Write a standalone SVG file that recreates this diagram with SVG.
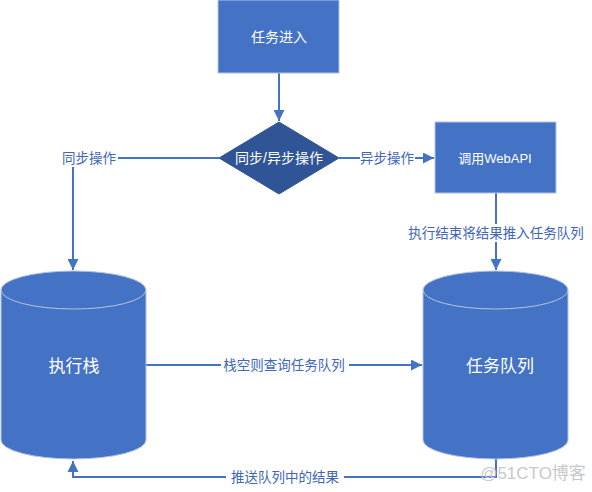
<svg xmlns="http://www.w3.org/2000/svg" width="592" height="492" viewBox="0 0 592 492">
<defs>
<marker id="ah" markerWidth="12" markerHeight="11" refX="11" refY="5.5" orient="auto" markerUnits="userSpaceOnUse">
<path d="M0,0 L11,5.5 L0,11 Z" fill="#4472C4"/>
</marker>
<style>
.node{fill:#4472C4;stroke:#B4C4E4;stroke-width:1}
.dia{fill:#2F5597;stroke:#2F5597;stroke-width:1}
.ntext{font-family:"Liberation Sans","Noto Sans CJK SC",sans-serif;fill:#FFFFFF;text-anchor:middle;dominant-baseline:central}
.line{fill:none;stroke:#4472C4;stroke-width:2}
.lbl{font-family:"Liberation Sans","Noto Sans CJK SC",sans-serif;font-size:13.5px;fill:#3F67B6;text-anchor:middle;dominant-baseline:central}
.bg{fill:#FFFFFF}
</style>
</defs>
<rect width="592" height="492" fill="#FFFFFF"/>

<g id="connectors">
<line class="line" x1="279" y1="73" x2="279" y2="121" marker-end="url(#ah)"/>
<polyline class="line" points="219,158 73,158 73,270" marker-end="url(#ah)"/>
<line class="line" x1="339" y1="158" x2="434" y2="158" marker-end="url(#ah)"/>
<line class="line" x1="496" y1="193" x2="496" y2="270" marker-end="url(#ah)"/>
<line class="line" x1="146" y1="365" x2="422" y2="365" marker-end="url(#ah)"/>
<polyline class="line" points="496,459 496,477 73,477 73,461" marker-end="url(#ah)"/>

<rect class="bg" x="60" y="149" width="58" height="18"/>
<text class="lbl" x="89" y="158">同步操作</text>
<rect class="bg" x="360" y="149" width="55" height="18"/>
<text class="lbl" x="387" y="158">异步操作</text>
<rect class="bg" x="405" y="224" width="184" height="18"/>
<text class="lbl" x="496" y="233">执行结束将结果推入任务队列</text>
<rect class="bg" x="221" y="356" width="128" height="18"/>
<text class="lbl" x="284" y="365">栈空则查询任务队列</text>
<rect class="bg" x="226" y="468" width="118" height="18"/>
<text class="lbl" x="285" y="477">推送队列中的结果</text>
</g>

<g id="start">
<rect class="node" x="218" y="0" width="121" height="73"/>
<text class="ntext" x="279" y="37" font-size="14">任务进入</text>
</g>

<g id="decision">
<polygon class="dia" points="279,122 339,158 279,194 219,158"/>
<text class="ntext" x="279" y="158" font-size="14">同步/异步操作</text>
</g>

<g id="webapi">
<rect class="node" x="435" y="122" width="121" height="71"/>
<text class="ntext" x="495" y="158" font-size="13">调用WebAPI</text>
</g>

<g id="stack">
<path class="node" d="M1,290 L1,440 A72.5,19 0 0 0 146,440 L146,290 A72.5,19 0 0 0 1,290 Z"/>
<path d="M1,290 A72.5,19 0 0 0 146,290" fill="none" stroke="#B4C4E4" stroke-width="1"/>
<text class="ntext" x="74" y="366" font-size="17">执行栈</text>
</g>

<g id="queue">
<path class="node" d="M423,290 L423,440 A72.5,19 0 0 0 568,440 L568,290 A72.5,19 0 0 0 423,290 Z"/>
<path d="M423,290 A72.5,19 0 0 0 568,290" fill="none" stroke="#B4C4E4" stroke-width="1"/>
<text class="ntext" x="500" y="366" font-size="17">任务队列</text>
</g>

<text x="533" y="473" font-family="Liberation Sans,Noto Sans CJK SC,sans-serif" font-size="17" fill="#C8C8C8" text-anchor="middle" dominant-baseline="central">@51CTO博客</text>
</svg>
